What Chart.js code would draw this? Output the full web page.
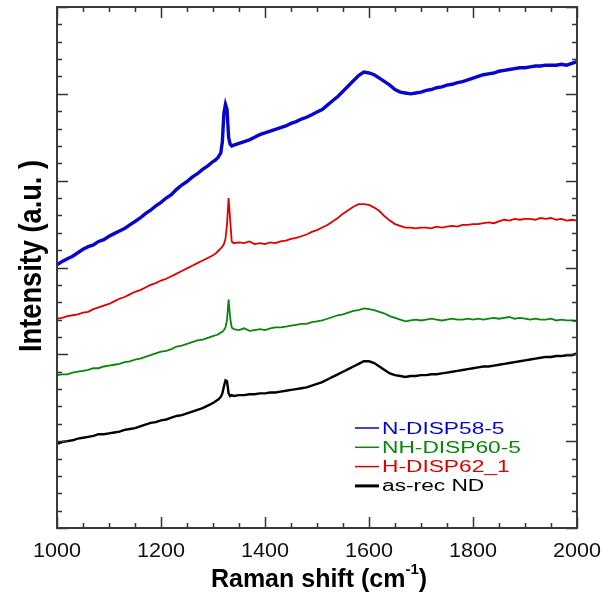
<!DOCTYPE html>
<html>
<head>
<meta charset="utf-8">
<script src="https://cdn.jsdelivr.net/npm/chart.js@4.4.1/dist/chart.umd.min.js"></script>
<style>
html,body{margin:0;padding:0;background:#fff;}
canvas{display:block;}
</style>
</head>
<body>
<canvas id="c" width="614" height="597"></canvas>
<script>
// ---- data ----
const wavenumbers = [1000,1010,1020,1030,1040,1050,1060,1070,1080,1090,1100,1110,1120,1130,1140,1150,1160,1170,1180,1190,1200,1210,1220,1230,1240,1250,1260,1270,1280,1290,1300,
1305,1310,1315,1318,1321,1324,1327,1330,1333,1336,1340,
1350,1360,1370,1380,1390,1400,1410,1420,1430,1440,1450,1460,1470,1480,1490,1500,1510,1520,1530,1540,1550,1560,1570,1580,1590,1600,1610,1620,1630,1640,1650,1660,1670,1680,1690,1700,1710,1720,1730,1740,1750,1760,1770,1780,1790,1800,1810,1820,1830,1840,1850,1860,1870,1880,1890,1900,1910,1920,1930,1940,1950,1960,1970,1980,1990,2000];

const nDisp58 = [3.03,3.07,3.10,3.13,3.17,3.21,3.24,3.26,3.30,3.32,3.36,3.39,3.42,3.45,3.49,3.53,3.57,3.62,3.66,3.71,3.75,3.80,3.84,3.90,3.95,3.99,4.04,4.08,4.13,4.17,4.22,
4.24,4.27,4.32,4.45,4.78,4.88,4.82,4.50,4.42,4.40,4.41,
4.43,4.45,4.47,4.50,4.53,4.55,4.57,4.59,4.61,4.63,4.66,4.68,4.71,4.73,4.76,4.79,4.82,4.87,4.92,4.97,5.03,5.09,5.15,5.21,5.25,5.24,5.22,5.18,5.14,5.10,5.05,5.02,5.01,5.00,5.01,5.02,5.04,5.05,5.07,5.08,5.10,5.11,5.13,5.14,5.16,5.18,5.20,5.22,5.23,5.24,5.26,5.27,5.28,5.29,5.30,5.30,5.31,5.32,5.32,5.33,5.33,5.33,5.34,5.33,5.35,5.37];

const nhDisp60 = [1.76,1.77,1.77,1.79,1.80,1.81,1.82,1.84,1.84,1.86,1.87,1.88,1.89,1.91,1.92,1.94,1.95,1.97,1.99,2.01,2.03,2.04,2.06,2.09,2.10,2.12,2.14,2.16,2.17,2.19,2.21,
2.22,2.23,2.25,2.26,2.28,2.31,2.40,2.63,2.42,2.31,2.29,
2.28,2.30,2.27,2.28,2.29,2.28,2.30,2.31,2.31,2.32,2.33,2.34,2.35,2.35,2.37,2.38,2.39,2.41,2.43,2.45,2.46,2.48,2.50,2.51,2.53,2.52,2.51,2.49,2.47,2.44,2.42,2.40,2.38,2.39,2.40,2.39,2.40,2.41,2.40,2.39,2.40,2.41,2.40,2.40,2.41,2.40,2.41,2.40,2.41,2.42,2.41,2.42,2.43,2.41,2.42,2.41,2.40,2.41,2.40,2.40,2.41,2.39,2.40,2.39,2.39,2.38];

const hDisp62 = [2.41,2.42,2.44,2.45,2.46,2.48,2.49,2.52,2.54,2.56,2.58,2.61,2.64,2.66,2.69,2.72,2.74,2.77,2.80,2.82,2.85,2.87,2.90,2.93,2.96,2.99,3.02,3.05,3.08,3.11,3.14,
3.16,3.19,3.22,3.24,3.27,3.33,3.50,3.80,3.55,3.30,3.28,
3.29,3.28,3.30,3.27,3.28,3.27,3.29,3.28,3.30,3.31,3.33,3.34,3.36,3.38,3.41,3.43,3.46,3.49,3.53,3.57,3.62,3.66,3.70,3.73,3.73,3.72,3.69,3.65,3.59,3.54,3.50,3.48,3.46,3.46,3.45,3.46,3.46,3.45,3.47,3.46,3.47,3.48,3.47,3.49,3.49,3.50,3.50,3.51,3.52,3.51,3.53,3.55,3.54,3.56,3.55,3.56,3.56,3.55,3.57,3.56,3.57,3.55,3.56,3.54,3.55,3.54];

const asRecND = [0.97,0.99,1.00,1.01,1.03,1.04,1.05,1.06,1.08,1.08,1.09,1.10,1.11,1.13,1.14,1.15,1.17,1.19,1.21,1.22,1.24,1.25,1.27,1.29,1.30,1.32,1.34,1.36,1.38,1.41,1.44,
1.46,1.48,1.51,1.55,1.63,1.70,1.69,1.55,1.52,1.53,1.52,
1.53,1.53,1.54,1.54,1.55,1.55,1.56,1.56,1.57,1.58,1.59,1.60,1.61,1.62,1.64,1.66,1.68,1.71,1.74,1.77,1.80,1.83,1.86,1.89,1.92,1.92,1.90,1.86,1.82,1.78,1.76,1.75,1.74,1.75,1.75,1.76,1.76,1.77,1.77,1.78,1.79,1.80,1.81,1.82,1.83,1.84,1.85,1.86,1.86,1.87,1.88,1.89,1.90,1.91,1.92,1.93,1.94,1.95,1.96,1.97,1.97,1.98,1.98,1.99,1.99,2.01];

const seriesLabels = ['N-DISP58-5','NH-DISP60-5','H-DISP62_1','as-rec ND'];
const xMajorTicks = [1000,1200,1400,1600,1800,2000];
const xTickLabels = ['1000','1200','1400','1600','1800','2000'];
const yMajorTicks = [0,1,2,3,4,5,6];

// ---- chart ----
const colors = ['#0606cc','#0a870a','#e00000','#000000'];
const widths = [3.4,1.8,1.8,2.4];
const legendWidths = [1.5,1.5,1.5,3];
const seriesValues = [nDisp58, nhDisp60, hDisp62, asRecND];

const datasets = seriesValues.map((vals, k) => ({
  label: seriesLabels[k],
  data: wavenumbers.map((x, i) => ({x: x, y: vals[i]})),
  borderColor: colors[k],
  backgroundColor: colors[k],
  borderWidth: widths[k],
  pointRadius: 0,
  tension: 0,
  fill: false
}));

function stretchText(ctx, text, x, y, sx) {
  ctx.save();
  ctx.translate(x, y);
  ctx.scale(sx, 1);
  ctx.fillText(text, 0, 0);
  ctx.restore();
}

const decor = {
  id: 'decor',
  afterDraw(chart) {
    const ctx = chart.ctx;
    const xs = chart.scales.x, ys = chart.scales.y;
    const a = chart.chartArea;
    ctx.save();
    // ticks (inward, mirrored)
    ctx.strokeStyle = '#333';
    ctx.lineWidth = 1.5;
    ctx.beginPath();
    for (let v = 1000; v <= 2000; v += 50) {
      const px = Math.round(xs.getPixelForValue(v)) + 0.5;
      const len = (v % 200 === 0) ? 11 : 5;
      ctx.moveTo(px, a.bottom); ctx.lineTo(px, a.bottom - len);
      ctx.moveTo(px, a.top); ctx.lineTo(px, a.top + len);
    }
    for (let i = 0; i <= 30; i++) {
      const v = i * 0.2;
      const py = Math.round(ys.getPixelForValue(v)) + 0.5;
      const len = (i % 5 === 0) ? 11 : 5;
      ctx.moveTo(a.left, py); ctx.lineTo(a.left + len, py);
      ctx.moveTo(a.right, py); ctx.lineTo(a.right - len, py);
    }
    ctx.stroke();
    // frame
    ctx.strokeStyle = '#3a3a3a';
    ctx.lineWidth = 2;
    ctx.strokeRect(a.left, a.top, a.right - a.left, a.bottom - a.top);

    // x tick labels
    ctx.fillStyle = '#111';
    ctx.font = '20px "Liberation Sans", Arial, sans-serif';
    ctx.textBaseline = 'alphabetic';
    xMajorTicks.forEach((v, i) => {
      const px = xs.getPixelForValue(v);
      const w = ctx.measureText(xTickLabels[i]).width * 1.08;
      stretchText(ctx, xTickLabels[i], px - w / 2, 557, 1.08);
    });

    // x title with superscript
    ctx.fillStyle = '#000';
    ctx.font = 'bold 25px "Liberation Sans", Arial, sans-serif';
    const p1 = 'Raman shift (cm', p3 = ')';
    const w1 = ctx.measureText(p1).width, w3 = ctx.measureText(p3).width;
    ctx.font = 'bold 15px "Liberation Sans", Arial, sans-serif';
    const p2 = '-1';
    const w2 = ctx.measureText(p2).width;
    let sx = 319 - (w1 + w2 + w3) / 2;
    ctx.font = 'bold 25px "Liberation Sans", Arial, sans-serif';
    ctx.fillText(p1, sx, 587);
    ctx.font = 'bold 15px "Liberation Sans", Arial, sans-serif';
    ctx.fillText(p2, sx + w1, 574);
    ctx.font = 'bold 25px "Liberation Sans", Arial, sans-serif';
    ctx.fillText(p3, sx + w1 + w2, 587);

    // y title
    ctx.font = 'bold 31px "Liberation Sans", Arial, sans-serif';
    const yt = 'Intensity (a.u. )';
    const ytw = ctx.measureText(yt).width;
    const yscale = 192 / ytw;
    ctx.save();
    ctx.translate(41, 256);
    ctx.rotate(-Math.PI / 2);
    ctx.scale(yscale, 1);
    ctx.fillText(yt, -ytw / 2, 0);
    ctx.restore();

    // legend
    ctx.font = '16px "Liberation Sans", Arial, sans-serif';
    chart.data.datasets.forEach((ds, k) => {
      const base = 433.5 + k * 19.3;
      ctx.strokeStyle = ds.borderColor;
      ctx.lineWidth = legendWidths[k];
      ctx.beginPath();
      ctx.moveTo(355, base - 5.5);
      ctx.lineTo(379, base - 5.5);
      ctx.stroke();
      ctx.fillStyle = k === 3 ? '#000' : ds.borderColor;
      stretchText(ctx, ds.label, 382, base, 1.42);
    });
    ctx.restore();
  }
};

new Chart(document.getElementById('c'), {
  type: 'line',
  data: { datasets: datasets },
  options: {
    responsive: false,
    animation: false,
    devicePixelRatio: 1,
    layout: { padding: { left: 57, top: 7, right: 37, bottom: 69 } },
    plugins: { legend: { display: false }, tooltip: { enabled: false } },
    scales: {
      x: { type: 'linear', min: 1000, max: 2000, display: false },
      y: { type: 'linear', min: 0, max: 6, display: false }
    }
  },
  plugins: [decor]
});
</script>
</body>
</html>
